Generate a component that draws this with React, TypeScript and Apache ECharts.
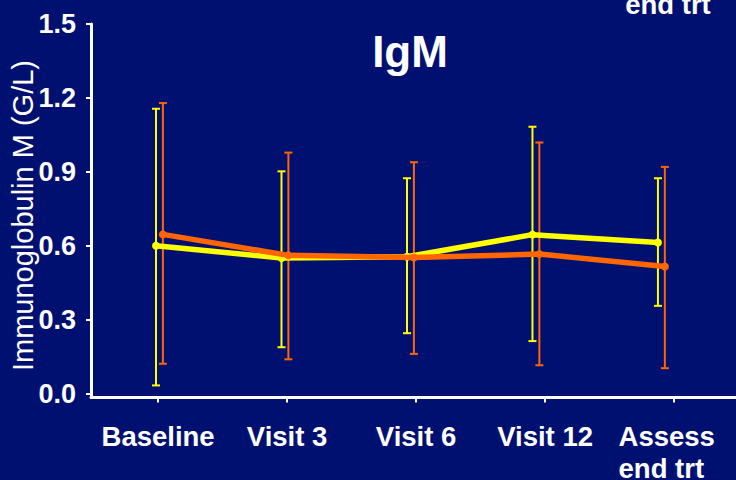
import React, { useEffect, useRef } from "react";
import * as echarts from "echarts";

const categories = ["Baseline", "Visit 3", "Visit 6", "Visit 12", "Assess\nend trt"];
const yTicks = [0, 0.3, 0.6, 0.9, 1.2, 1.5];
const yAxisTitle = "Immunoglobulin M (G/L)";
const chartTitle = "IgM";

// yellow group
const yellowMean = [0.6, 0.55, 0.555, 0.645, 0.613];
const yellowHigh = [1.156, 0.902, 0.874, 1.083, 0.874];
const yellowLow = [0.033, 0.188, 0.245, 0.213, 0.356];

// orange group
const orangeMean = [0.646, 0.561, 0.552, 0.566, 0.516];
const orangeHigh = [1.179, 0.978, 0.939, 1.019, 0.92];
const orangeLow = [0.121, 0.139, 0.161, 0.115, 0.103];

const FONT = "'Liberation Sans', Arial, sans-serif";
const BG = "#001070";
const YELLOW = "#FFFF00";
const ORANGE = "#FF6600";

function errorSeries(name: string, low: number[], high: number[], offset: number, color: string, z: number) {
  return {
    type: "custom",
    name,
    xAxisIndex: 1,
    z,
    data: low.map((l, i) => [i + offset, l, high[i]]),
    encode: { x: 0, y: [1, 2] },
    renderItem: (params: any, api: any) => {
      const x = api.value(0);
      const lo = api.coord([x, api.value(1)]);
      const hi = api.coord([x, api.value(2)]);
      const half = 4;
      const style = { stroke: color, lineWidth: 2 };
      return {
        type: "group",
        children: [
          { type: "line", shape: { x1: lo[0], y1: lo[1], x2: hi[0], y2: hi[1] }, style },
          { type: "line", shape: { x1: hi[0] - half, y1: hi[1], x2: hi[0] + half, y2: hi[1] }, style },
          { type: "line", shape: { x1: lo[0] - half, y1: lo[1], x2: lo[0] + half, y2: lo[1] }, style },
        ],
      };
    },
  };
}

function lineSeries(name: string, mean: number[], offset: number, color: string, z: number) {
  return {
    type: "line",
    name,
    xAxisIndex: 1,
    z,
    data: mean.map((m, i) => [i + offset, m]),
    symbol: "circle",
    symbolSize: 8,
    itemStyle: { color },
    lineStyle: { color, width: 5.5 },
  };
}

export default function App() {
  const ref = useRef<HTMLDivElement>(null);
  useEffect(() => {
    if (!ref.current) return;
    const chart = echarts.init(ref.current, null, { renderer: "svg" });
    const idx = categories.map((_, i) => i);
    const labelFont = { color: "#fff", fontSize: 27.5, fontWeight: "bold", fontFamily: FONT, lineHeight: 32 };
    chart.setOption({
      animation: false,
      backgroundColor: BG,
      grid: { left: 91, right: 0, top: 24, bottom: 82.5, containLabel: false, outerBoundsMode: "none" },
      xAxis: [
        {
          type: "value",
          min: -0.52,
          max: 4.48,
          position: "bottom",
          axisLine: { onZero: false, lineStyle: { color: "#fff", width: 3 } },
          axisTick: { customValues: idx, length: 5, lineStyle: { color: "#fff", width: 2 } },
          axisLabel: {
            customValues: idx,
            formatter: (v: number) => {
              const s = categories[Math.round(v)] ?? "";
              if (s.indexOf("\n") < 0) return s;
              return s.split("\n").map((line) => `{m|${line}}`).join("\n");
            },
            ...labelFont,
            margin: 23,
            rich: {
              m: { ...labelFont, width: 97, align: "left", padding: [0, 14, 0, 0] },
            },
          },
          splitLine: { show: false },
        },
        { type: "value", min: -0.518, max: 4.622, show: false },
      ],
      yAxis: {
        type: "value",
        min: -0.016,
        max: 1.5,
        axisLine: { show: true, onZero: false, lineStyle: { color: "#fff", width: 3 } },
        axisTick: { show: true, customValues: yTicks, length: 5, lineStyle: { color: "#fff", width: 2 } },
        axisLabel: {
          customValues: yTicks,
          formatter: (v: number) => v.toFixed(1),
          color: "#fff",
          fontSize: 27,
          fontWeight: "bold",
          fontFamily: FONT,
          margin: 15,
        },
        splitLine: { show: false },
      },
      graphic: [
        {
          type: "text",
          x: 410,
          y: 51,
          style: { text: chartTitle, fill: "#fff", font: `bold 44px ${FONT}`, textAlign: "center", textVerticalAlign: "middle" },
        },
        {
          type: "text",
          x: 23,
          y: 215.5,
          rotation: Math.PI / 2,
          style: { text: yAxisTitle, fill: "#fff", font: `29px ${FONT}`, textAlign: "center", textVerticalAlign: "middle" },
        },
        {
          type: "text",
          x: 668,
          y: 4,
          style: { text: "end trt", fill: "#fff", font: `bold 27.5px ${FONT}`, textAlign: "center", textVerticalAlign: "middle" },
        },
      ],
      series: [
        errorSeries("yellow-err", yellowLow, yellowHigh, 0, YELLOW, 2),
        errorSeries("orange-err", orangeLow, orangeHigh, 0.055, ORANGE, 3),
        lineSeries("yellow", yellowMean, 0, YELLOW, 4),
        lineSeries("orange", orangeMean, 0.055, ORANGE, 5),
      ],
    });
    return () => chart.dispose();
  }, []);
  return <div ref={ref} style={{ position: "fixed", left: 0, top: 0, width: 736, height: 480 }} />;
}
